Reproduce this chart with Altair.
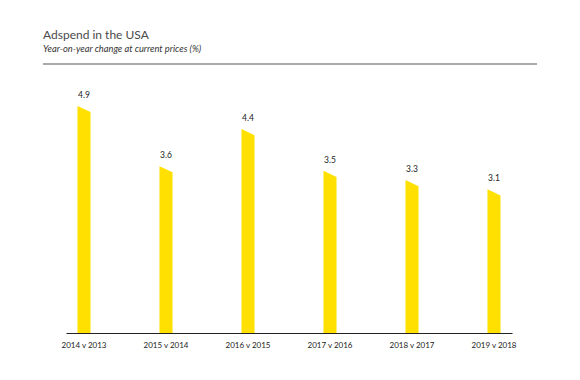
import altair as alt
import pandas as pd

categories = ["2014 v 2013", "2015 v 2014", "2016 v 2015", "2017 v 2016", "2018 v 2017", "2019 v 2018"]
values = [4.9, 3.6, 4.4, 3.5, 3.3, 3.1]
title_text = ["Adspend in the USA"]
subtitle_text = ["Year-on-year change at current prices (%)"]

df = pd.DataFrame({"cat": categories, "val": values})
FONT = "Lato"
YELLOW = "#FFE000"

xenc = alt.X("cat:N", sort=categories,
             scale=alt.Scale(paddingInner=0.841, paddingOuter=0.14),
             axis=alt.Axis(title=None, labelAngle=0, ticks=False, domainColor="#222222",
                           domainWidth=1, labelPadding=8, labelFont=FONT, labelFontSize=8,
                           labelColor="#222222"))
yscale = alt.Scale(domain=[0, 5.2], nice=False)
yenc = alt.Y("val:Q", scale=yscale, axis=None)

base = alt.Chart(df)
bars = base.mark_bar(color=YELLOW).encode(x=xenc, y=yenc)
cut = base.mark_point(
    shape="M -1 0 L 1 0.95 L 1.4 0.95 L 1.4 -0.4 L -1 -0.4 Z",
    filled=True, color="white", opacity=1, strokeWidth=0, size=169
).encode(x=alt.X("cat:N", sort=categories), y=alt.Y("val:Q", scale=yscale))
labels = base.mark_text(font=FONT, fontSize=8.5, color="#222222", baseline="bottom", dy=-6).encode(
    x=alt.X("cat:N", sort=categories), y=alt.Y("val:Q", scale=yscale),
    text=alt.Text("val:Q", format=".1f"))

t1 = alt.Chart(pd.DataFrame({"t": title_text})).mark_text(
    font=FONT, fontSize=12, color="#4a4a4a", align="left", baseline="alphabetic"
).encode(x=alt.value(-23), y=alt.value(-53), text="t:N")
t2 = alt.Chart(pd.DataFrame({"t": subtitle_text})).mark_text(
    font=FONT, fontSize=9.3, fontStyle="italic", color="#333333", align="left", baseline="alphabetic"
).encode(x=alt.value(-23), y=alt.value(-40), text="t:N")
sep = alt.Chart(pd.DataFrame({"t": [0]})).mark_rule(color="#aaaaaa", strokeWidth=2).encode(
    x=alt.value(-23), x2=alt.value(471), y=alt.value(-28))

chart = alt.layer(bars, cut, labels, t1, t2, sep).properties(
    width=446, height=241,
    autosize=alt.AutoSizeParams(type="none"),
    padding={"left": 58, "top": 84, "right": 60, "bottom": 39},
).configure_view(stroke=None)

chart.save("out.html", embed_options={"renderer": "svg", "actions": False})
